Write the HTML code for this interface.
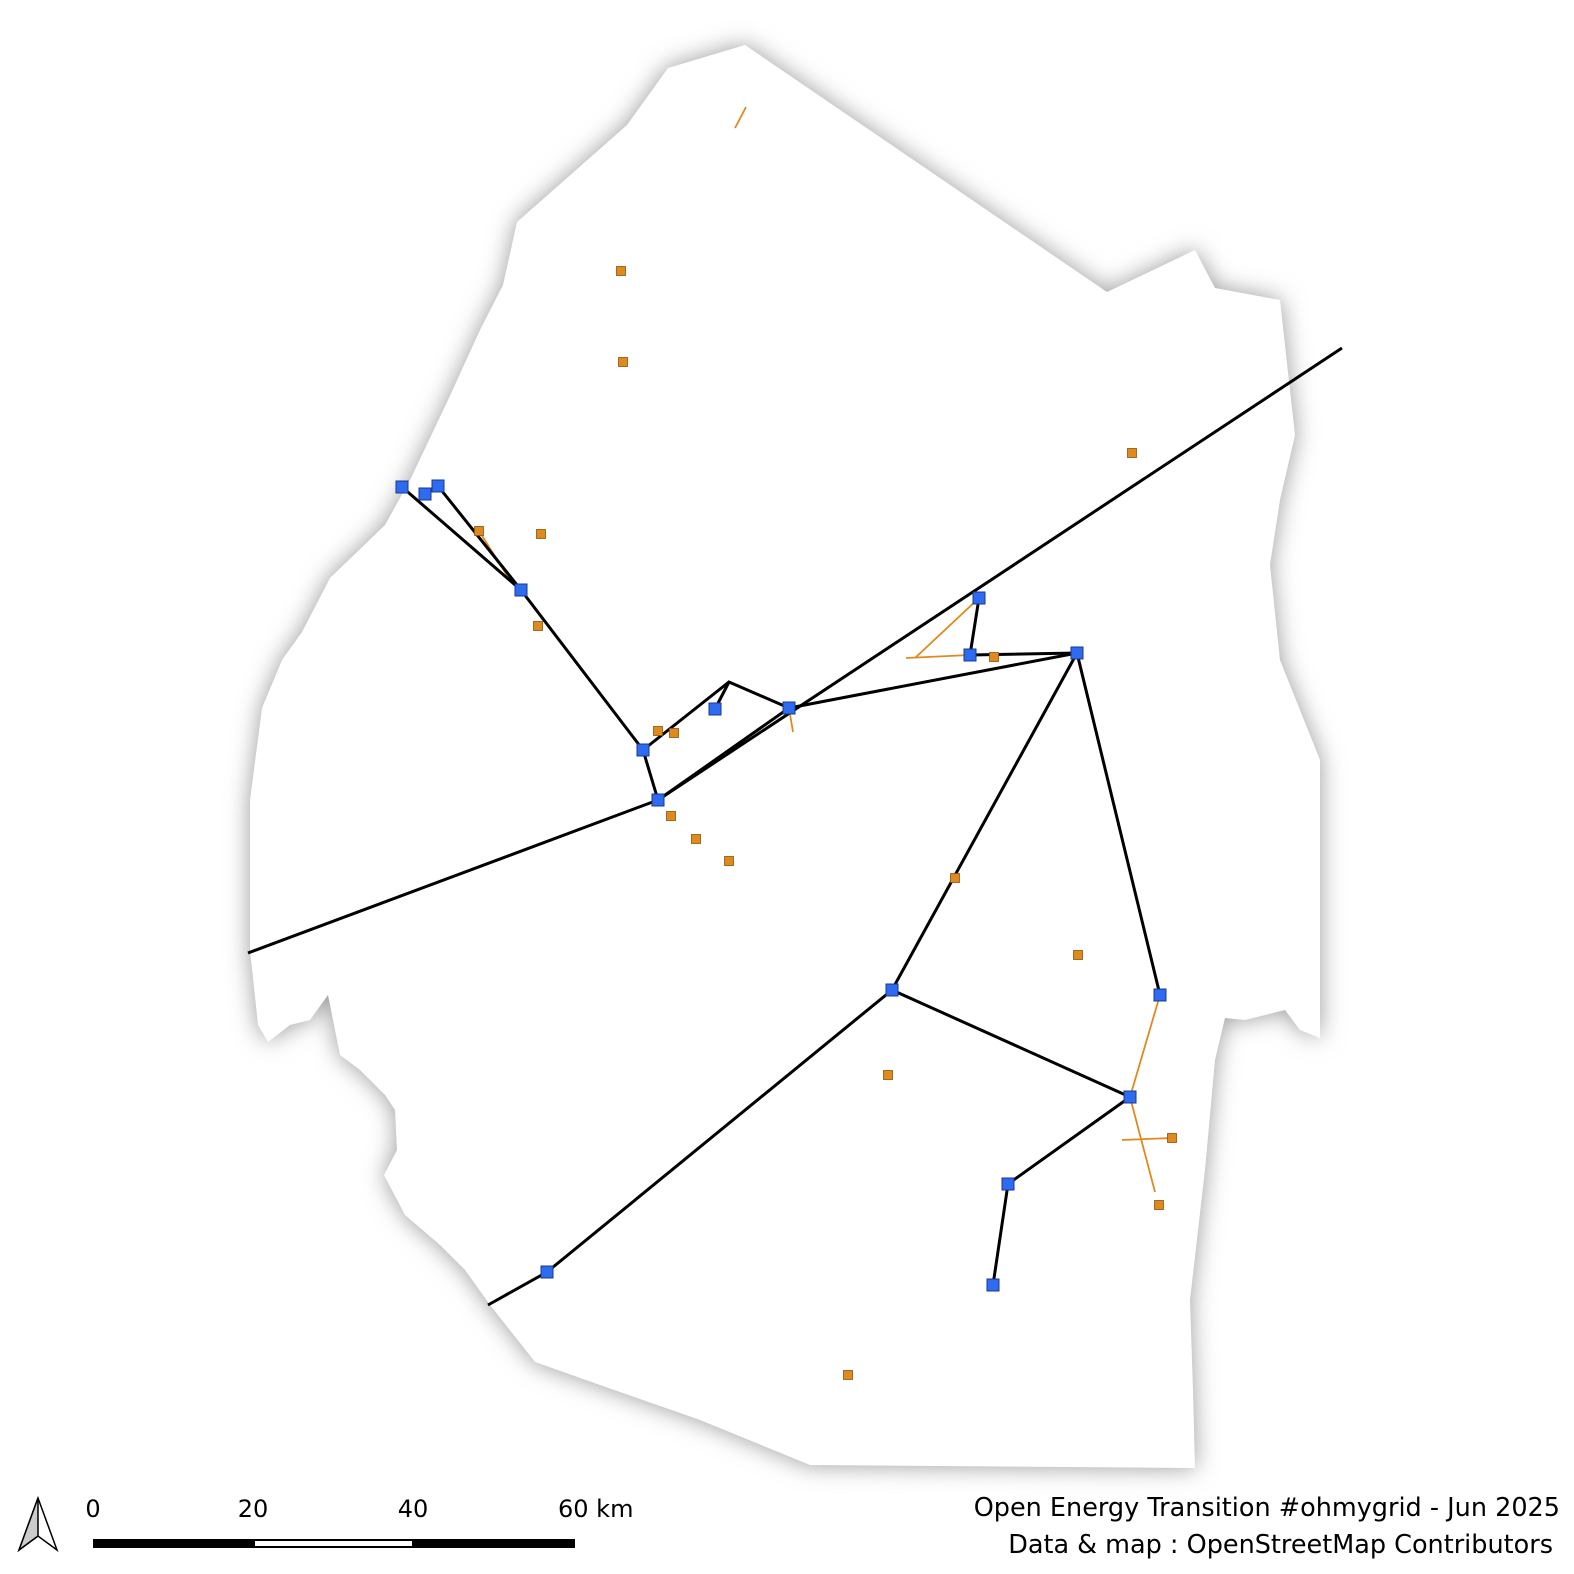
<!DOCTYPE html>
<html><head><meta charset="utf-8"><style>
html,body{margin:0;padding:0;background:#fff;}
body{width:1574px;height:1574px;overflow:hidden;font-family:"Liberation Sans","DejaVu Sans",sans-serif;}
svg{display:block}
</style></head><body>
<svg id="map" width="1574" height="1574" viewBox="0 0 1574 1574" xmlns="http://www.w3.org/2000/svg">
<defs><filter id="sh" x="-15%" y="-15%" width="130%" height="130%"><feGaussianBlur stdDeviation="12"/></filter></defs>
<g id="country"></g>
<g id="orangeLines"></g>
<g id="blackLines"></g>
<g id="orangePts"></g>
<g id="bluePts"></g>
<g>
<polygon points="38,1498 19,1550 38,1536 57,1550" fill="#fff" stroke="#000" stroke-width="1.5"/>
<polygon points="38,1498 38,1536 19,1550" fill="#ccc" stroke="#000" stroke-width="1.5"/>
</g>
<g>
<rect x="93" y="1539" width="160" height="9" fill="#000"/>
<rect x="254" y="1540" width="159" height="7" fill="#fff" stroke="#000" stroke-width="2"/>
<rect x="413" y="1539" width="162" height="9" fill="#000"/>
<text x="93" y="1517" font-size="24" text-anchor="middle" font-family="DejaVu Sans, sans-serif">0</text>
<text x="253" y="1517" font-size="24" text-anchor="middle" font-family="DejaVu Sans, sans-serif">20</text>
<text x="413" y="1517" font-size="24" text-anchor="middle" font-family="DejaVu Sans, sans-serif">40</text>
<text x="558" y="1517" font-size="24" font-family="DejaVu Sans, sans-serif">60 km</text>
</g>
<text x="1560" y="1516" font-size="25.5" text-anchor="end" font-family="DejaVu Sans, sans-serif">Open Energy Transition #ohmygrid - Jun 2025</text>
<text x="1553" y="1553" font-size="25.5" text-anchor="end" font-family="DejaVu Sans, sans-serif">Data &amp; map : OpenStreetMap Contributors</text>
</svg>
<script>
const outline=[[745,45],[668,68],[627,125],[517,222],[503,285],[480,330],[448,400],[410,480],[385,525],[330,578],[302,632],[282,660],[262,708],[250,800],[250,950],[258,1025],[268,1042],[290,1025],[310,1020],[328,995],[340,1055],[360,1070],[385,1095],[395,1110],[397,1150],[384,1175],[405,1215],[440,1245],[465,1270],[490,1305],[535,1362],[600,1385],[700,1420],[810,1465],[1195,1468],[1193,1390],[1190,1300],[1205,1170],[1215,1060],[1225,1018],[1245,1020],[1265,1015],[1285,1010],[1300,1030],[1320,1038],[1320,760],[1280,660],[1270,565],[1280,500],[1295,435],[1280,300],[1215,288],[1195,250],[1107,292]];
const blackLines=[[[248,953],[658,800]],[[658,800],[1342,348]],[[658,800],[789,708]],[[402,487],[521,590]],[[438,486],[521,590]],[[521,590],[643,750]],[[643,750],[658,800]],[[643,750],[729,682],[789,708]],[[729,682],[715,709]],[[789,708],[1077,653]],[[970,655],[1077,653]],[[970,655],[979,598]],[[1077,653],[892,990]],[[1077,653],[1160,995]],[[892,990],[547,1272],[488,1305]],[[892,990],[1130,1097]],[[1130,1097],[1008,1184],[993,1285]]];
const orangeLines=[[[735,128],[746,107]],[[479,531],[510,580]],[[979,598],[915,658]],[[906,658],[970,655]],[[789,708],[793,732]],[[1160,995],[1130,1097]],[[1130,1097],[1155,1192]],[[1122,1140],[1172,1138]]];
const bluePts=[[402,487],[425,494],[438,486],[521,590],[643,750],[658,800],[715,709],[789,708],[979,598],[970,655],[1077,653],[892,990],[1160,995],[1130,1097],[1008,1184],[993,1285],[547,1272]];
const orangePts=[[621,271],[623,362],[1132,453],[479,531],[541,534],[538,626],[658,731],[674,733],[671,816],[696,839],[729,861],[994,657],[955,878],[1078,955],[888,1075],[1172,1138],[1159,1205],[848,1375]];
const NS="http://www.w3.org/2000/svg";
function mk(tag,parent,attrs){const e=document.createElementNS(NS,tag);for(const k in attrs)e.setAttribute(k,attrs[k]);parent.appendChild(e);return e;}
const pts=outline.map(p=>p.join(',')).join(' ');
const c=document.getElementById('country');
const s=mk('polygon',c,{points:pts,fill:'#9a9a9a',filter:'url(#sh)'});


const f=mk('polygon',c,{points:pts,fill:'#fff'});


const bl=document.getElementById('blackLines');
blackLines.forEach(l=>{const e=mk('polyline',bl,{points:l.map(p=>p.join(',')).join(' '),fill:'none',stroke:'#000','stroke-width':3});

});
const ol=document.getElementById('orangeLines');
orangeLines.forEach(l=>{const e=mk('polyline',ol,{points:l.map(p=>p.join(',')).join(' '),fill:'none',stroke:'#e08a1e','stroke-width':1.8});

});
const op=document.getElementById('orangePts');
orangePts.forEach(p=>{const e=mk('rect',op,{x:p[0]-4.5,y:p[1]-4.5,width:9,height:9,fill:'#e08a1e',stroke:'#8a5210','stroke-width':0.8});

});
const bp=document.getElementById('bluePts');
bluePts.forEach(p=>{const e=mk('rect',bp,{x:p[0]-6,y:p[1]-6,width:12,height:12,fill:'#2f6bf0',stroke:'#1a3a8a','stroke-width':1});

});
</script>
</body></html>
